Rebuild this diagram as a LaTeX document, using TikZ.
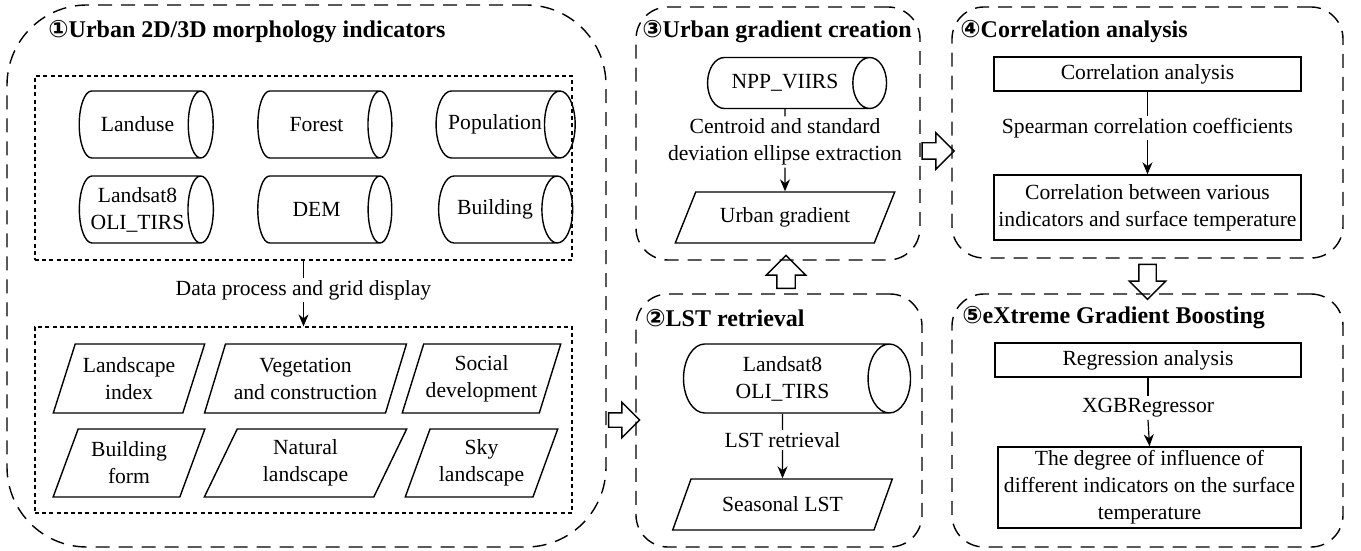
\documentclass[tikz,border=0pt]{standalone}
\usepackage{fontspec}
\setmainfont{Liberation Serif}
\newfontfamily\circfont{DejaVu Sans}
\usetikzlibrary{shapes.geometric,shapes.arrows,arrows.meta}

\begin{document}
\begin{tikzpicture}[x=.5pt,y=-.5pt,font=\fontsize{10.8}{13.5}\selectfont,
  outerbox/.style={draw,dash pattern=on 7pt off 4.5pt,line width=.7pt,inner sep=0pt},
  innerbox/.style={draw,dash pattern=on 2pt off 1.6pt,line width=.6pt,inner sep=0pt},
  drum/.style={cylinder,draw,line width=.7pt,shape border rotate=0,align=center,inner sep=1pt},
  slantbox/.style={trapezium,draw,line width=.7pt,trapezium left angle=67,trapezium right angle=113,trapezium stretches=true,align=center,inner sep=1pt},
  plainbox/.style={rectangle,draw,line width=.7pt,align=center,inner sep=1pt},
  steplabel/.style={align=center,inner sep=1pt},
  hollowarrow/.style={single arrow,draw,line width=.7pt,inner xsep=0pt,single arrow tip angle=90},
  boxtitle/.style={anchor=west,font=\fontsize{12}{14}\selectfont\bfseries,inner sep=0pt},
  flow/.style={-{Stealth[length=6pt,width=5pt]},line width=.6pt}]
\useasboundingbox (0,0) rectangle (1361,551);
% frames
\node[outerbox,rounded corners=40pt,minimum width=299.5pt,minimum height=271pt] (box1) at (306.5,276) {};
\node[outerbox,rounded corners=16pt,minimum width=142pt,minimum height=126.5pt] (box3) at (778,133.5) {};
\node[outerbox,rounded corners=16pt,minimum width=143pt,minimum height=126.5pt] (box2) at (779,420.5) {};
\node[outerbox,rounded corners=16pt,minimum width=195.5pt,minimum height=125.5pt] (box4) at (1147.5,132.5) {};
\node[outerbox,rounded corners=16pt,minimum width=195.5pt,minimum height=126.5pt] (box5) at (1147.5,420.5) {};
\node[boxtitle] (title1) at (48,32) {{\circfont ①}Urban 2D/3D morphology indicators};
\node[boxtitle] (title3) at (642,32) {{\circfont ③}Urban gradient creation};
\node[boxtitle] (title2) at (645,318) {{\circfont ②}LST retrieval};
\node[boxtitle] (title4) at (960,32) {{\circfont ④}Correlation analysis};
\node[boxtitle] (title5) at (962,318) {{\circfont ⑤}eXtreme Gradient Boosting};
% 1: data sources
\node[innerbox,minimum width=268.5pt,minimum height=92pt] (in1) at (303.5,168) {};
\node[drum,minimum height=67pt,minimum width=33.5pt,aspect=1.3] (landuse) at (137.5,124.5) {Landuse};
\node[drum,minimum height=67pt,minimum width=33.5pt,aspect=1.3] (forest) at (316.5,124.5) {Forest};
\node[drum,minimum height=67pt,minimum width=33.5pt,aspect=1.3] (population) at (495,124.5) {Population};
\node[drum,minimum height=67pt,minimum width=33.5pt,aspect=.52] (landsat) at (137.5,209.5) {Landsat8\\OLI\_TIRS};
\node[drum,minimum height=67pt,minimum width=33.5pt,aspect=1.3] (dem) at (316.5,209.5) {DEM};
\node[drum,minimum height=67pt,minimum width=33.5pt,aspect=1.3] (building) at (495,209.5) {Building};
\node[steplabel] (lbl1) at (303.5,290) {Data process and grid display};
% 1: indicators
\node[innerbox,minimum width=268.5pt,minimum height=93pt] (in2) at (303.5,420) {};
\node[slantbox,minimum width=76pt,minimum height=34.5pt] (landscape) at (129,378.5) {Landscape\\index};
\node[slantbox,minimum width=101.5pt,minimum height=34.5pt] (vegetation) at (305.5,378.5) {Vegetation\\and construction};
\node[slantbox,minimum width=76.5pt,minimum height=34.5pt] (social) at (481.5,378.5) {Social\\development};
\node[slantbox,minimum width=76pt,minimum height=34pt] (form) at (129,463) {Building\\form};
\node[slantbox,minimum width=101.5pt,minimum height=34pt] (natural) at (305.5,463) {Natural\\landscape};
\node[slantbox,minimum width=76.5pt,minimum height=34pt] (sky) at (481.5,463) {Sky\\landscape};
\draw[line width=.6pt] (in1.south) -- (lbl1.north);
\draw[flow] (lbl1.south) -- (in2.north);
% 3: urban gradient
\node[drum,minimum height=89.5pt,minimum width=25.5pt,aspect=1.6] (npp) at (785,83) {NPP\_VIIRS};
\node[steplabel] (lbl3) at (785,142) {Centroid and standard\\deviation ellipse extraction};
\node[slantbox,trapezium left angle=57,trapezium right angle=123,minimum width=110pt,minimum height=25.5pt] (gradient) at (785,217.5) {Urban gradient};
\draw[line width=.6pt] (npp.south) -- (lbl3.north);
\draw[flow] (lbl3.south) -- (gradient.north);
% 2: LST
\node[drum,minimum height=113.5pt,minimum width=34.5pt,aspect=.87] (oli) at (782.5,378.5) {Landsat8\\OLI\_TIRS};
\node[steplabel] (lbl2) at (782.5,440) {LST retrieval};
\node[slantbox,trapezium left angle=57,trapezium right angle=123,minimum width=110.5pt,minimum height=25.5pt] (seasonal) at (782.5,504.5) {Seasonal LST};
\draw[line width=.6pt] (oli.south) -- (lbl2.north);
\draw[flow] (lbl2.south) -- (seasonal.north);
% 4: correlation
\node[plainbox,minimum width=153.5pt,minimum height=17pt] (corr) at (1147.5,74) {Correlation analysis};
\node[steplabel] (lbl4) at (1147.5,128) {Spearman correlation coefficients};
\node[plainbox,minimum width=153.5pt,minimum height=32.5pt] (between) at (1147.5,207.5) {Correlation between various\\indicators and surface temperature};
\draw[line width=.6pt] (corr.south) -- (lbl4.north);
\draw[flow] (lbl4.south) -- (between.north);
% 5: XGBoost
\node[plainbox,minimum width=153pt,minimum height=17pt] (regr) at (1148,360) {Regression analysis};
\node[steplabel] (lbl5) at (1148,408) {XGBRegressor};
\node[plainbox,minimum width=151.5pt,minimum height=40.5pt] (degree) at (1149.5,487.5) {The degree of influence of\\different indicators on the surface\\temperature};
\draw[line width=.6pt] (regr.south) -- (lbl5.north);
\draw[flow] (lbl5.south) -- (degree.north);
% block arrows between stages
\node[hollowarrow,inner ysep=3.25pt,single arrow head extend=5.25pt,minimum height=15.5pt] (a12) at (620.5,420) {};
\node[hollowarrow,rotate=90,inner ysep=4.25pt,single arrow head extend=5.25pt,minimum height=16.5pt] (a23) at (786,276.5) {};
\node[hollowarrow,inner ysep=3.75pt,single arrow head extend=5pt,minimum height=16pt] (a34) at (934,151) {};
\node[hollowarrow,rotate=-90,inner ysep=4pt,single arrow head extend=4.75pt,minimum height=17.5pt] (a45) at (1147.5,277.5) {};
\end{tikzpicture}
\end{document}
